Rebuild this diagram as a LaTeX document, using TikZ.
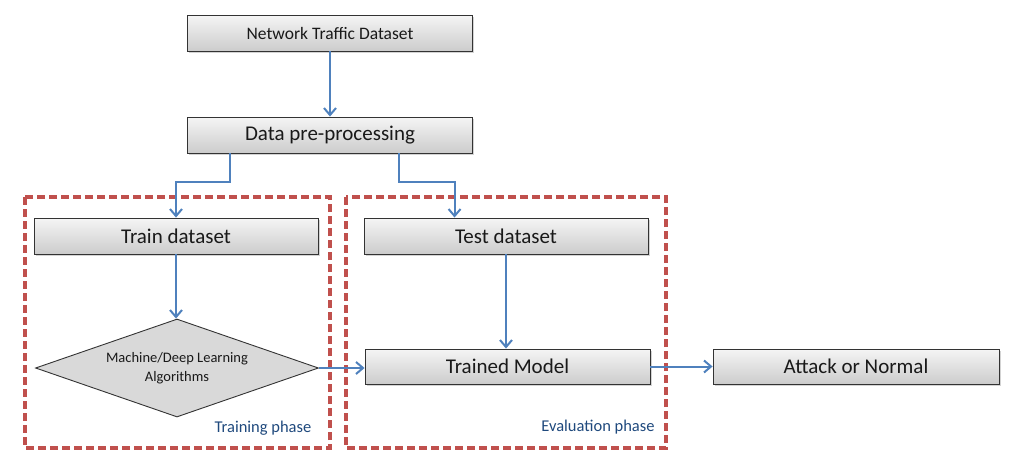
\documentclass[tikz,border=0pt]{standalone}
\usepackage{fontspec}
\setmainfont{Carlito}
\usetikzlibrary{arrows.meta,shapes.geometric,shadows,calc}
\definecolor{arrowblue}{RGB}{79,129,189}
\definecolor{dashred}{RGB}{192,80,77}
\definecolor{phaseblue}{RGB}{31,73,125}
\tikzset{
  box/.style={draw=black!80, line width=0.9pt, top color=gray!8, bottom color=gray!40,
    minimum width=285pt, minimum height=36pt, inner sep=0pt, text=black!90,
    drop shadow={shadow xshift=1.5pt, shadow yshift=-1.5pt, opacity=0.35}},
  dia/.style={diamond, draw=black!80, line width=0.9pt, fill=gray!30, aspect=2.9,
    minimum width=283pt, minimum height=98pt, inner sep=0pt, text=black!90},
  conn/.style={draw=arrowblue, line width=2pt, -{Straight Barb[length=7pt,width=12pt,line width=2pt]}},
  phase/.style={draw=dashred, line width=3.2pt, dash pattern=on 8pt off 4pt},
  phaselabel/.style={text=phaseblue, font=\fontsize{16.5}{18}\selectfont, inner sep=0pt}
}
\begin{document}
\begin{tikzpicture}[x=1pt,y=-1pt]
\useasboundingbox (0,0) rectangle (1009,458);
% dashed phase frames
\draw[phase] (25,197) rectangle (330,448);
\draw[phase] (346,197) rectangle (666,448);
% nodes
\node[box, font=\fontsize{17.5}{20}\selectfont] (ntd) at (330,33) {Network Traffic Dataset};
\node[box, font=\fontsize{21}{24}\selectfont] (dpp) at (330,135) {Data pre-processing};
\node[box, minimum width=284pt, font=\fontsize{21}{24}\selectfont] (train) at (176,236) {Train dataset};
\node[box, minimum width=284pt, font=\fontsize{21}{24}\selectfont] (test) at (506,236) {Test dataset};
\node[dia, font=\fontsize{14.5}{19}\selectfont, align=center] (ml) at (177,368) {Machine/Deep Learning\\Algorithms};
\node[box, minimum height=35pt, font=\fontsize{21}{24}\selectfont] (tm) at (507.5,366.5) {Trained Model};
\node[box, minimum width=286pt, minimum height=35pt, font=\fontsize{21}{24}\selectfont] (an) at (856,366.5) {Attack or Normal};
\node[phaselabel] (tp) at (263,428) {Training phase};
\node[phaselabel] (ep) at (598,427) {Evaluation phase};
% connectors
\coordinate (dl) at ($(dpp.south west)+(43,0)$);
\coordinate (dr) at ($(dpp.south west)+(212,0)$);
\coordinate (tr) at ($(test.north west)+(91,0)$);
\draw[conn] (ntd.south) -- (dpp.north);
\draw[conn] (dl) -- ++(0,29) -| (train.north);
\draw[conn] (dr) -- ++(0,29) -| (tr);
\draw[conn] (train.south) -- (train.south |- ml.north);
\draw[conn] (test.south) -- (test.south |- tm.north);
\draw[conn] (ml.east) -- (ml.east -| tm.west);
\draw[conn] (tm.east) -- (an.west);
\end{tikzpicture}
\end{document}
